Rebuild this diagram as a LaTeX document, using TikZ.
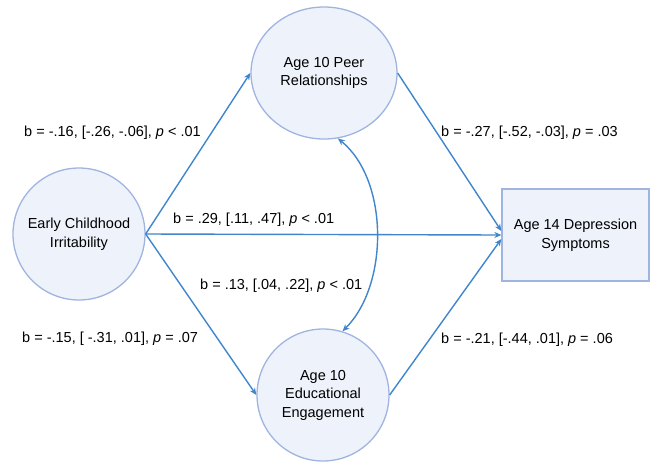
\documentclass[tikz,border=0pt]{standalone}
\usepackage{fontspec}
\setmainfont{Liberation Sans}
\usetikzlibrary{arrows.meta,shapes.geometric}
\definecolor{lineblue}{HTML}{3F86CC}
\definecolor{nodeborder}{HTML}{A0B4E0}
\definecolor{nodefill}{HTML}{EEF3FB}
\tikzset{
  var/.style={draw=nodeborder,fill=nodefill,line width=1.3pt,align=center,inner sep=0pt,
    font=\fontsize{14.5}{18.5}\selectfont},
  circvar/.style={var,circle,minimum size=132pt},
  ellvar/.style={var,ellipse,minimum width=146pt,minimum height=132pt},
  boxvar/.style={var,rectangle,minimum width=147pt,minimum height=92pt},
  path/.style={draw=lineblue,line width=1.4pt,-{Stealth[length=7pt,width=6pt]}},
  lab/.style={anchor=west,inner sep=0pt,font=\fontsize{14.5}{17}\selectfont}
}
\begin{document}
\begin{tikzpicture}[x=1pt,y=-1pt]
\useasboundingbox (0,0) rectangle (652,461);
\node[circvar] (early) at (79,234) {Early Childhood\\Irritability};
\node[ellvar] (peer) at (324,73) {Age 10 Peer\\Relationships};
\node[circvar] (edu) at (323,395) {Age 10\\Educational\\Engagement};
\node[boxvar] (dep) at (575.5,235) {Age 14 Depression\\Symptoms};
\draw[path] (early.east) -- (peer.west);
\draw[path] (early.east) -- (dep.west);
\draw[path] (early.east) -- (edu.west);
\draw[path] (peer.east) -- ([yshift=4pt]dep.west);
\draw[path] (edu.east) -- ([yshift=-4pt]dep.west);
\draw[path,{Stealth[length=7pt,width=6pt]}-{Stealth[length=7pt,width=6pt]}] (peer.-78) .. controls (389,180) and (389,285) .. (edu.73);
\node[lab] (l1) at (24,133) {b = -.16, [-.26, -.06], \textit{p} < .01};
\node[lab] (l2) at (441,133) {b = -.27, [-.52, -.03], \textit{p} = .03};
\node[lab] (l3) at (173,220) {b = .29, [.11, .47], \textit{p} < .01};
\node[lab] (l4) at (200,286) {b = .13, [.04, .22], \textit{p} < .01};
\node[lab] (l5) at (22,339) {b = -.15, [ -.31, .01], \textit{p} = .07};
\node[lab] (l6) at (441,340) {b = -.21, [-.44, .01], \textit{p} = .06};
\end{tikzpicture}
\end{document}
